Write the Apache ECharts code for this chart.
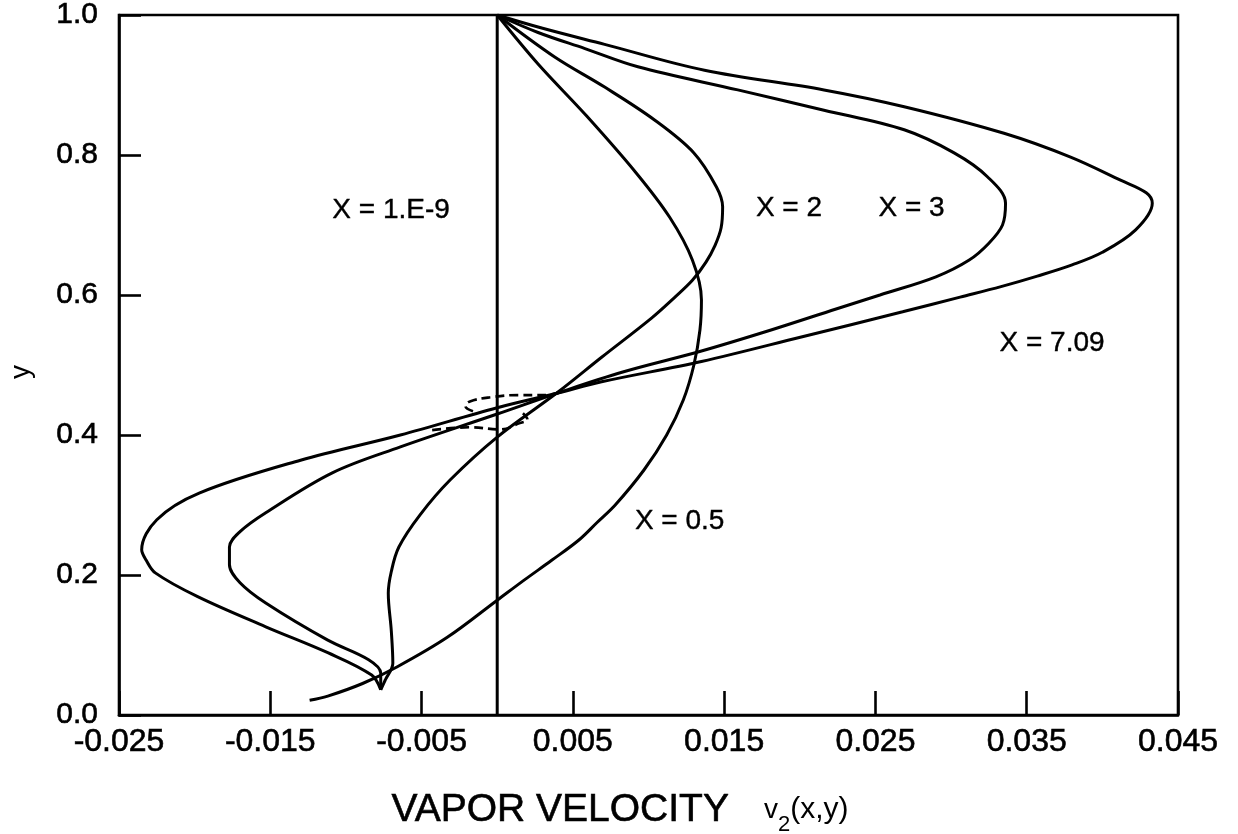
<!DOCTYPE html>
<html>
<head>
<meta charset="utf-8">
<title>Vapor velocity profiles</title>
<script src="https://cdn.jsdelivr.net/npm/echarts@6/dist/echarts.min.js"></script>
<style>
  html, body { margin: 0; padding: 0; background: #fff; }
  #chart { width: 1238px; height: 834px; }
</style>
</head>
<body>
<div id="chart"></div>
<script>
// Axis ticks
const vTicks = [-0.025, -0.015, -0.005, 0.005, 0.015, 0.025, 0.035, 0.045];
const yTicks = [0, 0.2, 0.4, 0.6, 0.8, 1.0];

// Velocity profiles v2(x, y) as [v2, y] pairs, traced from the wall y = 1 down to y = 0
const profileX1e9 = [[0.0, 1.0], [0.0, 0.0]];

const profileX05 = [
  [0.0000, 1.000], [0.0027, 0.930], [0.0059, 0.856], [0.0092, 0.774],
  [0.0114, 0.711], [0.0129, 0.650], [0.0135, 0.593], [0.0134, 0.550],
  [0.0130, 0.500], [0.0123, 0.450], [0.0112, 0.400], [0.0097, 0.350],
  [0.0078, 0.300], [0.0066, 0.275], [0.0054, 0.250], [0.0036, 0.221],
  [0.0018, 0.193], [0.0000, 0.164], [-0.0033, 0.111], [-0.0066, 0.069],
  [-0.0089, 0.045], [-0.0112, 0.027], [-0.0124, 0.021]
];

const profileX2 = [
  [0.0000, 1.000], [0.0038, 0.940], [0.0071, 0.897], [0.0104, 0.850],
  [0.0130, 0.803], [0.0145, 0.754], [0.0149, 0.726], [0.0148, 0.696],
  [0.0144, 0.671], [0.0138, 0.647], [0.0129, 0.621], [0.0117, 0.596],
  [0.0102, 0.567], [0.0069, 0.511], [0.0040, 0.461], [0.0000, 0.397],
  [-0.0031, 0.336], [-0.0051, 0.286], [-0.0065, 0.240], [-0.0070, 0.205],
  [-0.0072, 0.174], [-0.0070, 0.120], [-0.0069, 0.074], [-0.0074, 0.050],
  [-0.0077, 0.036]
];

const profileX3 = [
  [0.0000, 1.000], [0.0027, 0.975], [0.0058, 0.952], [0.0093, 0.926],
  [0.0159, 0.893], [0.0216, 0.864], [0.0269, 0.836], [0.0302, 0.803],
  [0.0324, 0.769], [0.0336, 0.731], [0.0334, 0.700], [0.0325, 0.674],
  [0.0312, 0.650], [0.0290, 0.626], [0.0253, 0.600], [0.0224, 0.580],
  [0.0181, 0.550], [0.0135, 0.520], [0.0083, 0.490], [0.0040, 0.460],
  [0.0000, 0.430], [-0.0064, 0.383], [-0.0109, 0.346], [-0.0153, 0.289],
  [-0.0170, 0.262], [-0.0177, 0.240], [-0.0177, 0.215], [-0.0170, 0.189],
  [-0.0153, 0.160], [-0.0112, 0.107], [-0.0085, 0.079], [-0.0077, 0.060],
  [-0.0077, 0.036]
];

const profileX709 = [
  [0.0000, 1.000], [0.0030, 0.981], [0.0071, 0.958], [0.0137, 0.921],
  [0.0216, 0.893], [0.0269, 0.869], [0.0335, 0.831], [0.0379, 0.797],
  [0.0412, 0.764], [0.0429, 0.746], [0.0433, 0.731], [0.0422, 0.693],
  [0.0400, 0.661], [0.0380, 0.643], [0.0357, 0.627], [0.0333, 0.612],
  [0.0306, 0.597], [0.0268, 0.576], [0.0201, 0.540], [0.0135, 0.505],
  [0.0069, 0.476], [0.0040, 0.460], [0.0000, 0.439], [-0.0064, 0.400],
  [-0.0130, 0.364], [-0.0197, 0.317], [-0.0225, 0.279], [-0.0235, 0.236],
  [-0.0232, 0.221], [-0.0226, 0.203], [-0.0198, 0.169], [-0.0153, 0.126],
  [-0.0112, 0.089], [-0.0083, 0.057], [-0.0077, 0.036]
];

// Dashed loop around the common crossing point
const loopLower = [
  [-0.0043, 0.407], [-0.0018, 0.411], [0.0002, 0.408], [0.0015, 0.417],
  [0.0020, 0.422], [0.0017, 0.431]
];
const loopUpper = [
  [-0.0016, 0.434], [-0.0021, 0.441], [-0.0018, 0.448], [-0.0004, 0.454],
  [0.0014, 0.457], [0.0031, 0.457], [0.0042, 0.461]
];

// Curve captions: [text, v2, y] (left edge of the text)
const captions = [
  ['X = 1.E-9', -0.0109, 0.721],
  ['X = 2', 0.0171, 0.724],
  ['X = 3', 0.0252, 0.724],
  ['X = 7.09', 0.0332, 0.531],
  ['X = 0.5', 0.0091, 0.277]
];

const FONT = '"Liberation Sans", Arial, Helvetica, sans-serif';
const INK = '#000';
// slight outline so the type has the weight of the printed figure
const HEAVY = { textBorderColor: INK, textBorderWidth: 0.6 };

function profile(name, data) {
  return {
    name: name,
    type: 'line',
    data: data,
    smooth: 0.35,
    showSymbol: false,
    symbol: 'none',
    lineStyle: { color: INK, width: 3 },
    silent: true,
    z: 3
  };
}

function loop(data) {
  return {
    type: 'line',
    data: data,
    smooth: 0.4,
    showSymbol: false,
    symbol: 'none',
    lineStyle: { color: INK, width: 2.6, type: [9, 5] },
    silent: true,
    z: 3
  };
}

const chart = echarts.init(document.getElementById('chart'), null, { renderer: 'canvas' });

chart.setOption({
  animation: false,
  backgroundColor: '#fff',
  grid: {
    left: 119, right: 60, top: 15, bottom: 119,
    outerBoundsMode: 'none',
    containLabel: false,
    show: true, borderColor: INK, borderWidth: 2.6, backgroundColor: 'transparent'
  },
  xAxis: {
    type: 'value',
    min: vTicks[0],
    max: vTicks[vTicks.length - 1],
    axisLine: { show: true, onZero: false, lineStyle: { color: INK, width: 2.6 } },
    axisTick: {
      show: true, inside: true, length: 24,
      customValues: vTicks,
      lineStyle: { color: INK, width: 2.6 }
    },
    axisLabel: Object.assign({
      customValues: vTicks,
      margin: 11,
      color: INK,
      fontFamily: FONT,
      fontSize: 32,
      formatter: v => v.toFixed(3)
    }, HEAVY),
    splitLine: { show: false },
    name: '{t|VAPOR VELOCITY}{s|}{v|v}{sub|2}{p|(x,y)}',
    nameLocation: 'middle',
    nameGap: 69,
    nameTextStyle: {
      padding: [0, 57, 0, 0],
      rich: {
        t: Object.assign({ fontFamily: FONT, fontSize: 39, lineHeight: 52, color: INK }, HEAVY),
        s: { width: 35 },
        v: { fontFamily: FONT, fontSize: 28, lineHeight: 44, verticalAlign: 'middle', color: INK },
        sub: { fontFamily: FONT, fontSize: 22, lineHeight: 22, verticalAlign: 'bottom', color: INK },
        p: { fontFamily: FONT, fontSize: 30, lineHeight: 44, verticalAlign: 'middle', color: INK }
      }
    }
  },
  yAxis: {
    type: 'value',
    min: yTicks[0],
    max: yTicks[yTicks.length - 1],
    interval: 0.2,
    axisLine: { show: true, onZero: false, lineStyle: { color: INK, width: 2.6 } },
    axisTick: { show: true, inside: true, length: 22, lineStyle: { color: INK, width: 2.6 } },
    axisLabel: Object.assign({
      margin: 21,
      color: INK,
      fontFamily: FONT,
      fontSize: 30,
      formatter: v => v.toFixed(1)
    }, HEAVY),
    splitLine: { show: false },
    name: 'y',
    nameLocation: 'middle',
    nameGap: 84,
    nameTextStyle: { fontFamily: FONT, fontSize: 28, color: INK, padding: [0, 14, 0, 0] }
  },
  series: [
    profile('X = 1.E-9', profileX1e9),
    profile('X = 0.5', profileX05),
    profile('X = 2', profileX2),
    profile('X = 3', profileX3),
    profile('X = 7.09', profileX709),
    loop(loopLower),
    loop(loopUpper),
    {
      type: 'scatter',
      data: captions.map(c => [c[1], c[2], c[0]]),
      symbolSize: 0,
      silent: true,
      z: 4,
      itemStyle: { opacity: 1 },
      label: {
        show: true,
        position: 'right',
        distance: 0,
        color: INK,
        fontFamily: FONT,
        fontSize: 28,
        textBorderColor: INK,
        textBorderWidth: 0.4,
        formatter: p => p.value[2]
      }
    }
  ]
});
</script>
</body>
</html>
